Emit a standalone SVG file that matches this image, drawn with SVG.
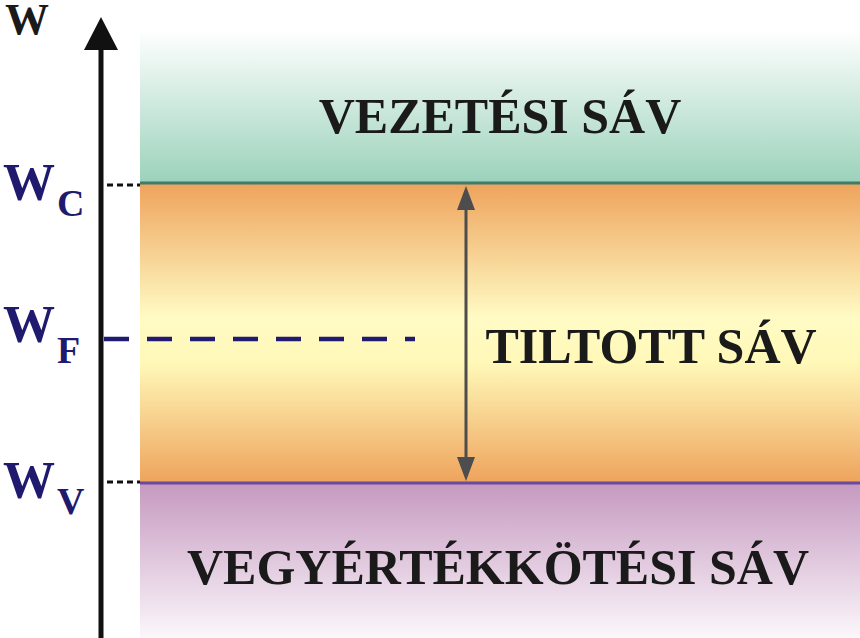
<svg xmlns="http://www.w3.org/2000/svg" width="860" height="638" viewBox="0 0 860 638">
<style>
.t{font-family:"Liberation Serif",serif;font-weight:bold;fill:#1a1a1a}
.w{font-family:"Liberation Serif",serif;font-weight:bold;fill:#1f1a6e}
.dot{stroke:#111;stroke-width:3;stroke-dasharray:6 4}
</style>
<defs>
<linearGradient id="g1" x1="0" y1="0" x2="0" y2="1"><stop offset="0" stop-color="#fff"/><stop offset="1" stop-color="#9bd2bb"/></linearGradient>
<linearGradient id="g2" x1="0" y1="0" x2="0" y2="1"><stop offset="0" stop-color="#eea35c"/><stop offset="0.45" stop-color="#fffbc4"/><stop offset="0.6" stop-color="#fff8b8"/><stop offset="1" stop-color="#eea35c"/></linearGradient>
<linearGradient id="g3" x1="0" y1="0" x2="0" y2="1"><stop offset="0" stop-color="#c699c0"/><stop offset="1" stop-color="#fbf7fb"/></linearGradient>
</defs>
<g id="bands">
<rect x="140" y="30" width="720" height="153" fill="url(#g1)"/>
<rect x="140" y="183" width="720" height="300" fill="url(#g2)"/>
<rect x="140" y="483" width="720" height="155" fill="url(#g3)"/>
<line x1="140" y1="183" x2="860" y2="183" stroke="#3d7b6b" stroke-width="3"/>
<line x1="140" y1="483" x2="860" y2="483" stroke="#6a4a9a" stroke-width="3"/>
</g>
<g id="connectors">
<line x1="101" y1="638" x2="101" y2="48" stroke="#111" stroke-width="5"/>
<path d="M101,17L84,50L118,50z" fill="#111"/>
<line x1="107" y1="185" x2="140" y2="185" class="dot"/>
<line x1="107" y1="482" x2="140" y2="482" class="dot"/>
<line x1="104" y1="339" x2="415" y2="339" stroke="#201a70" stroke-width="4.5" stroke-dasharray="25 18"/>
<line x1="466" y1="205" x2="466" y2="462" stroke="#4d4d4d" stroke-width="3"/>
<path d="M466,186L457,210L475,210z M466,481L457,457L475,457z" fill="#4d4d4d"/>
</g>
<g id="labels">
<text x="5" y="34" class="t" font-size="44">W</text>
<text x="3" y="200" class="w" font-size="52">W<tspan font-size="38" dx="2" dy="16">C</tspan></text>
<text x="3" y="342" class="w" font-size="52">W<tspan font-size="38" dx="2" dy="21">F</tspan></text>
<text x="3" y="498" class="w" font-size="52">W<tspan font-size="38" dx="2" dy="16">V</tspan></text>
<text x="500" y="133" class="t" font-size="50" text-anchor="middle">VEZETÉSI SÁV</text>
<text x="651" y="363" class="t" font-size="50" text-anchor="middle">TILTOTT SÁV</text>
<text x="498" y="584" class="t" font-size="50" text-anchor="middle">VEGYÉRTÉKKÖTÉSI SÁV</text>
</g>
</svg>
